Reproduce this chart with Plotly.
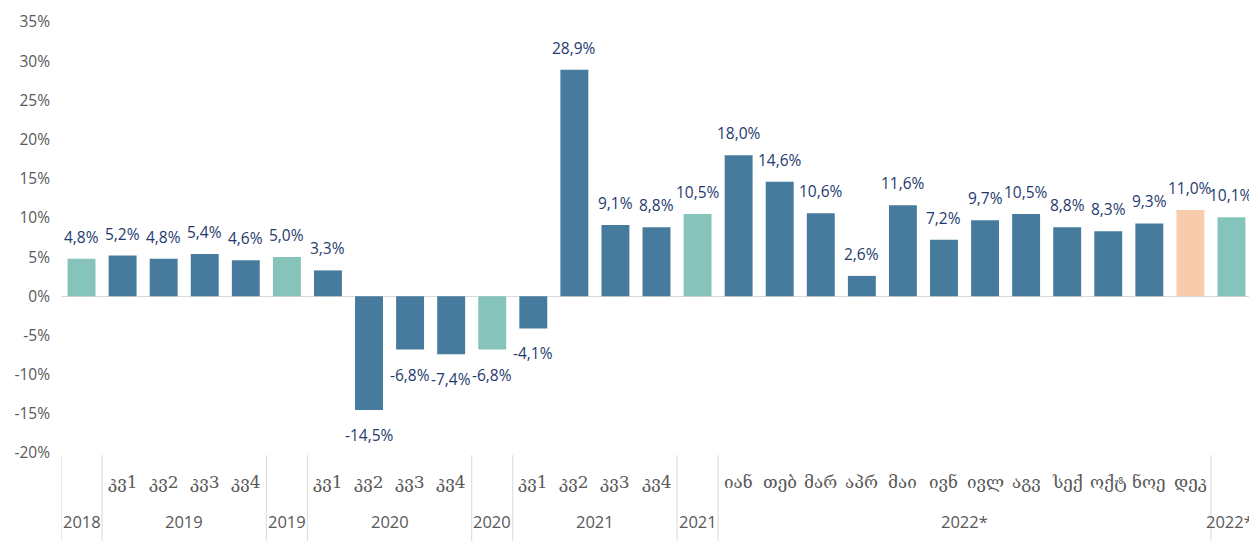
import plotly.graph_objects as go

# ---- data ----
groups = ["2018", "2019", "2019", "2020", "2020", "2021", "2021", "2022*", "2022*"]
group_sub = [
    [""],
    ["კვ1", "კვ2", "კვ3", "კვ4"],
    [""],
    ["კვ1", "კვ2", "კვ3", "კვ4"],
    [""],
    ["კვ1", "კვ2", "კვ3", "კვ4"],
    [""],
    ["იან", "თებ", "მარ", "აპრ", "მაი", "ივნ", "ივლ", "აგვ", "სექ", "ოქტ", "ნოე", "დეკ"],
    [""],
]
values = [
    4.8,
    5.2, 4.8, 5.4, 4.6,
    5.0,
    3.3, -14.5, -6.8, -7.4,
    -6.8,
    -4.1, 28.9, 9.1, 8.8,
    10.5,
    18.0, 14.6, 10.6, 2.6, 11.6, 7.2, 9.7, 10.5, 8.8, 8.3, 9.3, 11.0,
    10.1,
]
# bar kind: a = annual, q = period, p = highlighted
kinds = (["a"] + ["q"] * 4 + ["a"] + ["q"] * 4 + ["a"] + ["q"] * 4 + ["a"]
         + ["q"] * 11 + ["p"] + ["a"])
y_ticks = [-20, -15, -10, -5, 0, 5, 10, 15, 20, 25, 30, 35]

colors_map = {"a": "#86C4BB", "q": "#467B9D", "p": "#F8CBAD"}

sub_labels = [s for g in group_sub for s in g]
cats = [f"c{i}" for i in range(len(values))]
bar_colors = [colors_map[k] for k in kinds]
texts = [f"{v:.1f}%".replace(".", ",") for v in values]

fig = go.Figure()
fig.add_trace(go.Bar(
    x=cats, y=values, marker=dict(color=bar_colors, line=dict(width=0)),
    hoverinfo="skip", showlegend=False,
))

label_color = "#1F3A6E"
tick_color = "#595959"
geo_font = "DejaVu Serif"
num_font = "Open Sans"

annotations = []
for c, v, t in zip(cats, values, texts):
    annotations.append(dict(
        x=c, y=v, xref="x", yref="y", text=t, showarrow=False,
        yanchor="bottom" if v >= 0 else "top",
        yshift=9 if v >= 0 else -12,
        font=dict(family=num_font, size=15.5, color=label_color),
    ))

for i, s in enumerate(sub_labels):
    if s:
        annotations.append(dict(
            x=i, y=-0.067, xref="x", yref="paper", text=s, showarrow=False,
            yanchor="middle", font=dict(family=geo_font, size=17, color=tick_color),
        ))

shapes = []
start = 0
bounds = [-0.5]
n_groups = len(groups)
for gi, (g, subs) in enumerate(zip(groups, group_sub)):
    n = len(subs)
    center = start + (n - 1) / 2
    ann = dict(
        x=center, y=-0.160, xref="x", yref="paper", text=g, showarrow=False,
        yanchor="middle", font=dict(family=num_font, size=16.5, color=tick_color),
    )
    if gi == n_groups - 1:
        ann.update(x=start + n - 0.5, xanchor="right", xshift=3)
    annotations.append(ann)
    start += n
    bounds.append(start - 0.5)

for b in bounds:
    shapes.append(dict(
        type="line", xref="x", yref="paper", x0=b, x1=b, y0=-0.005, y1=-0.22,
        line=dict(color="#D9D9D9", width=1),
    ))

fig.update_layout(
    width=1249, height=533,
    margin=dict(l=53, r=5, t=14, b=88, autoexpand=False),
    plot_bgcolor="white", paper_bgcolor="white",
    bargap=0.32,
    annotations=annotations, shapes=shapes,
    xaxis=dict(type="category", showticklabels=False, showgrid=False,
               showline=False, zeroline=False, ticks="", automargin=False,
               range=[-0.5, len(values) - 0.5]),
    yaxis=dict(range=[-20, 35], tickvals=y_ticks,
               ticktext=[f"{t}%" for t in y_ticks],
               showgrid=False, zeroline=True, zerolinecolor="#D9D9D9",
               zerolinewidth=1, showline=False, automargin=False, ticklen=0,
               ticklabelstandoff=10,
               tickfont=dict(family=num_font, size=15.5, color=tick_color)),
)

fig.write_html("out.html")
